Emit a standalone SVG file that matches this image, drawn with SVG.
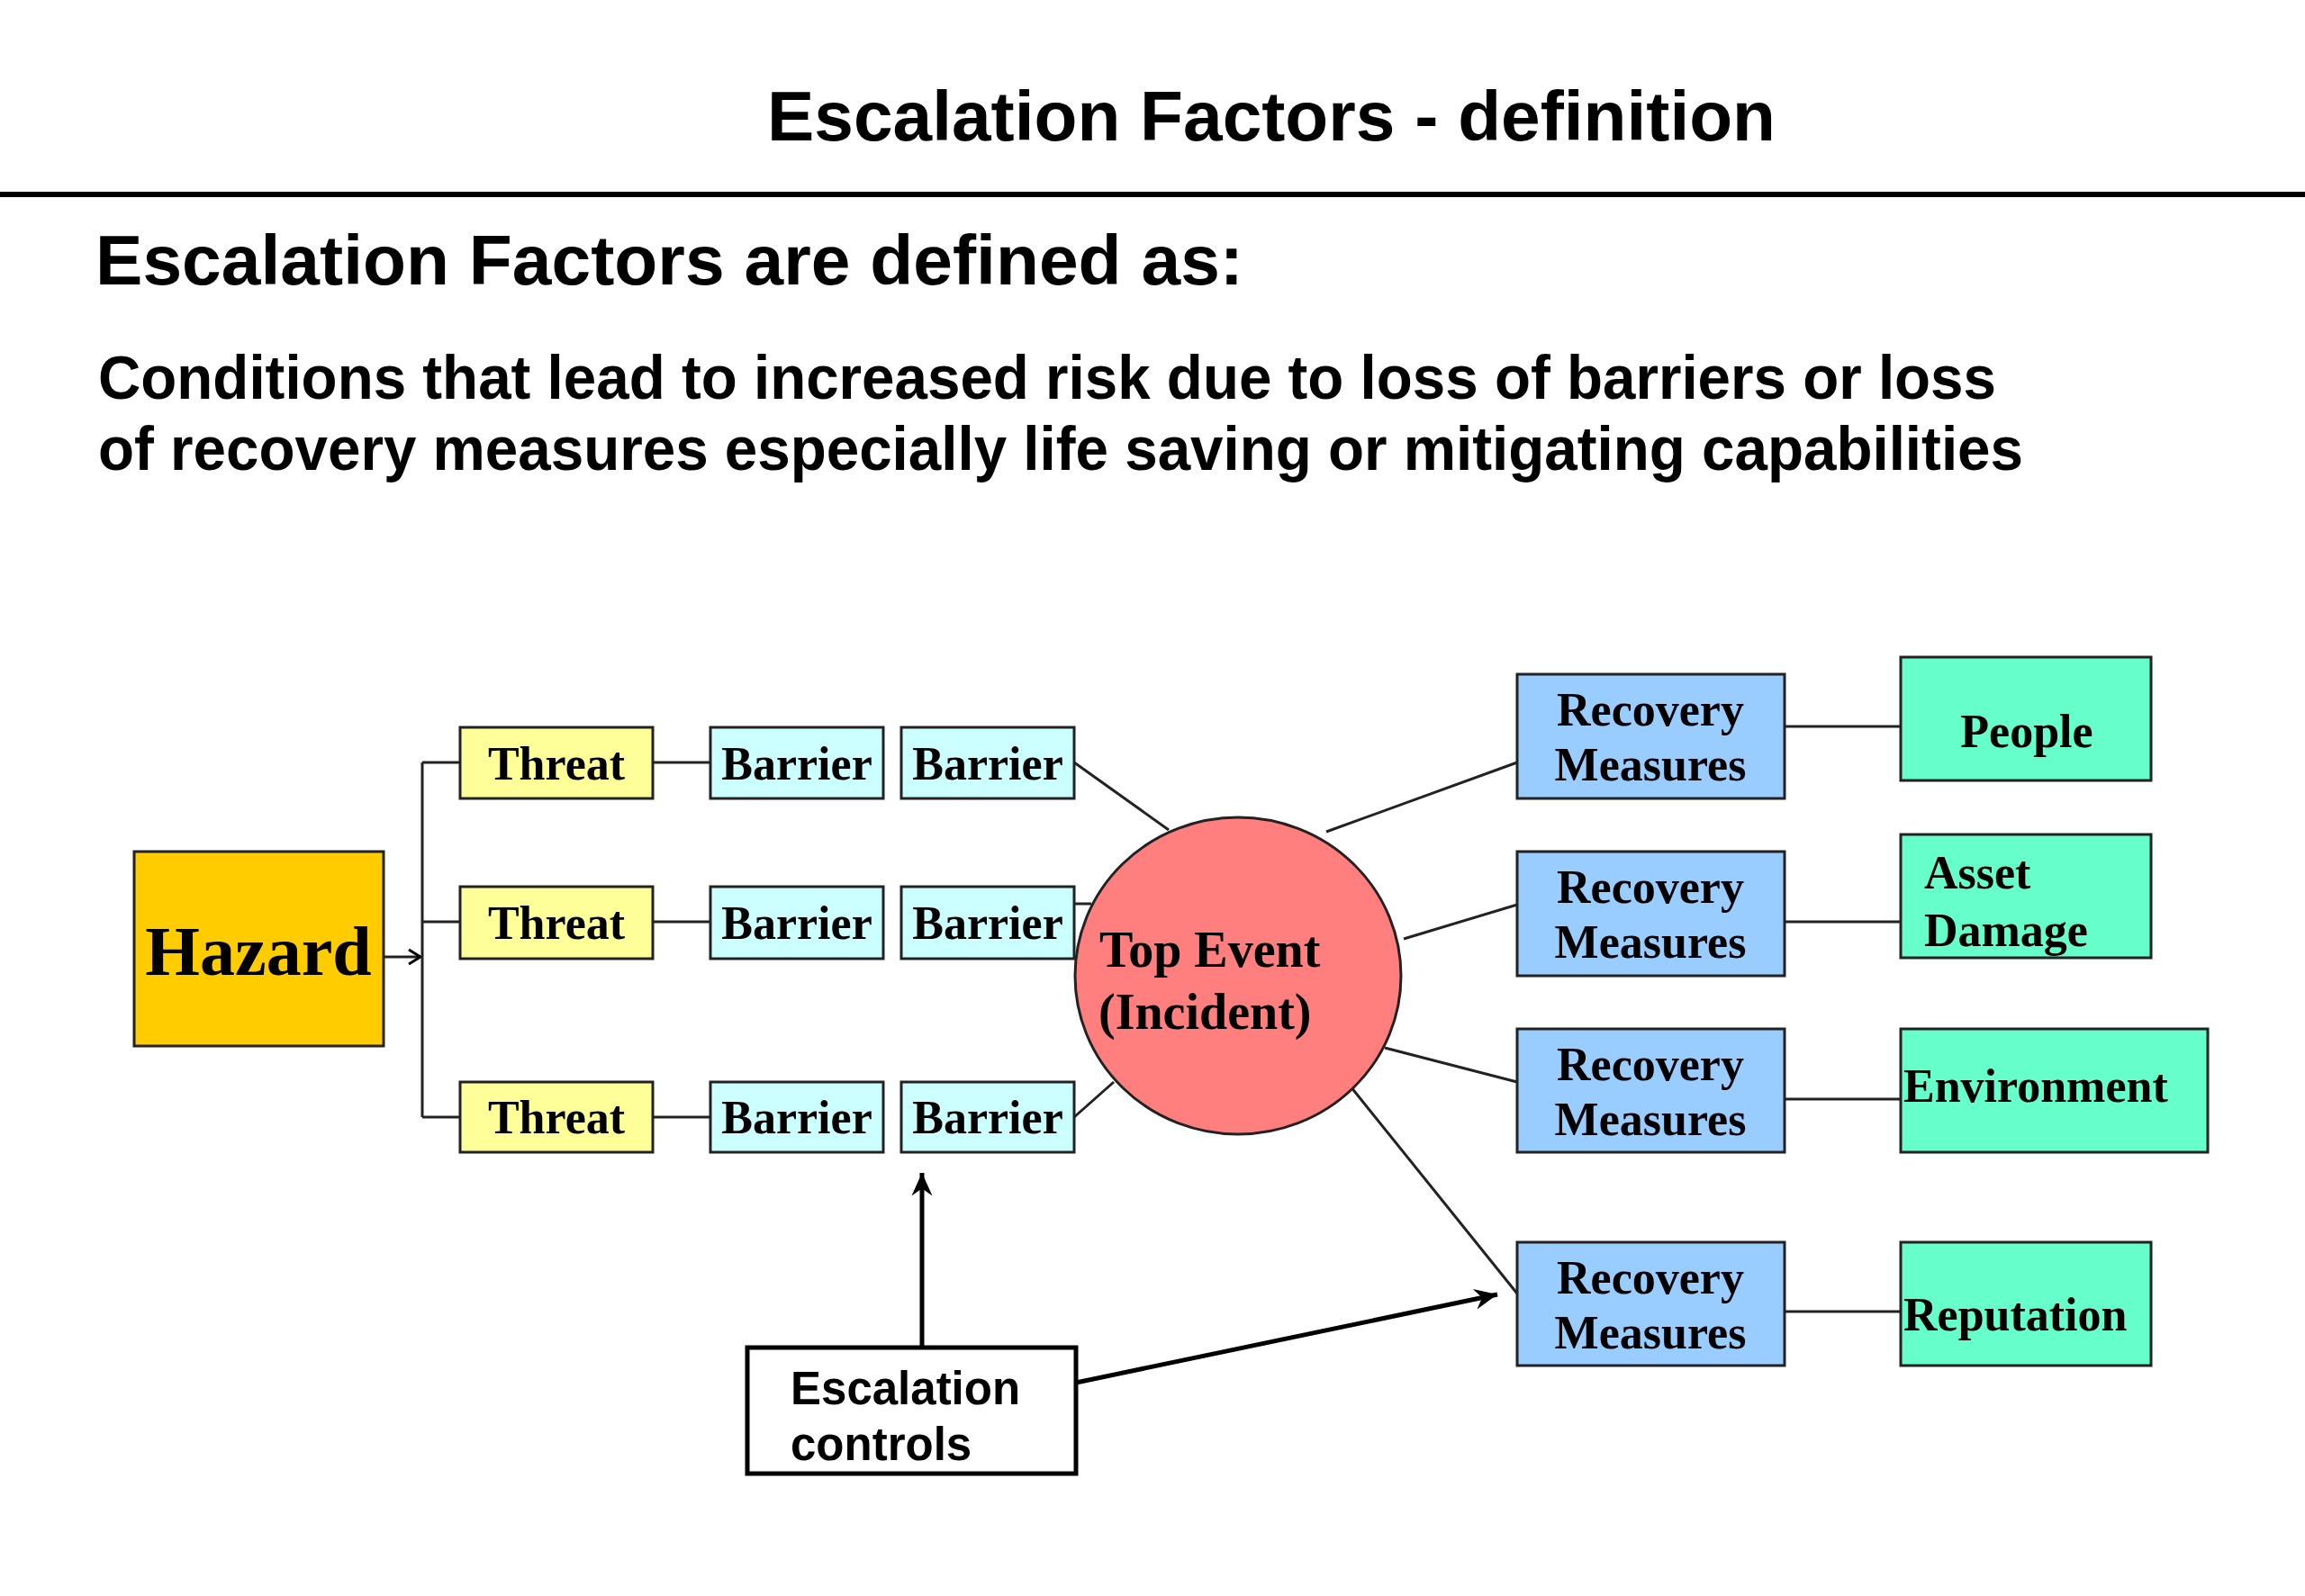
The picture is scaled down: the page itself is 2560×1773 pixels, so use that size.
<svg xmlns="http://www.w3.org/2000/svg" width="2560" height="1773" viewBox="0 0 2560 1773">
<style>
.sans{font-family:"Liberation Sans",Arial,sans-serif;font-weight:bold;fill:#000}
.serif{font-family:"Liberation Serif","Times New Roman",serif;font-weight:bold;fill:#000}
.box{stroke:#222;stroke-width:3}
.haz{fill:#FFCC00}
.thr{fill:#FFFF99}
.bar{fill:#CCFFFF}
.rec{fill:#99CCFF}
.out{fill:#66FFCC}
.lbl{font-size:52px}
.c{text-anchor:middle}
.ln{stroke:#222;stroke-width:3;fill:none}
.thick{stroke:#000;stroke-width:5;fill:none}
</style>
<defs>
<marker id="small" markerUnits="userSpaceOnUse" markerWidth="20" markerHeight="20" viewBox="-16 -10 20 20" refX="0" refY="0" orient="auto">
<path d="M-13,-8 L0,0 L-13,8" fill="none" stroke="#000" stroke-width="3"/>
</marker>
<marker id="big" markerUnits="userSpaceOnUse" markerWidth="30" markerHeight="30" viewBox="-24 -12 26 24" refX="0" refY="0" orient="auto">
<path d="M0,0 L-22,-10 L-15,0 L-22,10 Z" fill="#000"/>
</marker>
</defs>
<rect width="2560" height="1773" fill="#fff"/>
<g id="header">
<text class="sans" x="852" y="156" font-size="77" textLength="1120" lengthAdjust="spacingAndGlyphs">Escalation Factors - definition</text>
<line x1="0" y1="216" x2="2560" y2="216" stroke="#000" stroke-width="6"/>
<text class="sans" x="106" y="316" font-size="78" textLength="1275" lengthAdjust="spacingAndGlyphs">Escalation Factors are defined as:</text>
<text class="sans" x="109" y="443" font-size="69" textLength="2108" lengthAdjust="spacingAndGlyphs">Conditions that lead to increased risk due to loss of barriers or loss</text>
<text class="sans" x="109" y="522" font-size="69" textLength="2138" lengthAdjust="spacingAndGlyphs">of recovery measures especially life saving or mitigating capabilities</text>
</g>
<g id="connectors">
<line class="ln" x1="426" y1="1063" x2="467" y2="1063" marker-end="url(#small)"/>
<line class="ln" x1="469" y1="847" x2="469" y2="1241"/>
<line class="ln" x1="469" y1="847" x2="511" y2="847"/>
<line class="ln" x1="469" y1="1024" x2="511" y2="1024"/>
<line class="ln" x1="469" y1="1241" x2="511" y2="1241"/>
<line class="ln" x1="725" y1="847" x2="789" y2="847"/>
<line class="ln" x1="725" y1="1024" x2="789" y2="1024"/>
<line class="ln" x1="725" y1="1241" x2="789" y2="1241"/>
<line class="ln" x1="1193" y1="847" x2="1298" y2="922"/>
<line class="ln" x1="1193" y1="1004" x2="1212" y2="1004"/>
<line class="ln" x1="1193" y1="1241" x2="1237" y2="1202"/>
<line class="ln" x1="1473" y1="924" x2="1685" y2="847"/>
<line class="ln" x1="1559" y1="1043" x2="1685" y2="1005"/>
<line class="ln" x1="1538" y1="1164" x2="1685" y2="1202"/>
<line class="ln" x1="1496" y1="1202" x2="1685" y2="1437"/>
<line class="ln" x1="1982" y1="807" x2="2111" y2="807"/>
<line class="ln" x1="1982" y1="1024" x2="2111" y2="1024"/>
<line class="ln" x1="1982" y1="1221" x2="2111" y2="1221"/>
<line class="ln" x1="1982" y1="1457" x2="2111" y2="1457"/>
<line class="thick" x1="1024" y1="1497" x2="1024" y2="1303" marker-end="url(#big)"/>
<line class="thick" x1="1195" y1="1536" x2="1663" y2="1438" marker-end="url(#big)"/>
</g>
<g id="hazard">
<rect class="box haz" x="149" y="946" width="277" height="216"/>
<text class="serif c" x="287" y="1083" font-size="78">Hazard</text>
</g>
<g id="threat1"><rect class="box thr" x="511" y="808" width="214" height="79"/><text class="serif lbl c" x="618" y="866">Threat</text></g>
<g id="threat2"><rect class="box thr" x="511" y="985" width="214" height="80"/><text class="serif lbl c" x="618" y="1043">Threat</text></g>
<g id="threat3"><rect class="box thr" x="511" y="1202" width="214" height="78"/><text class="serif lbl c" x="618" y="1259">Threat</text></g>
<g id="barrier1a"><rect class="box bar" x="789" y="808" width="192" height="79"/><text class="serif lbl c" x="885" y="866">Barrier</text></g>
<g id="barrier1b"><rect class="box bar" x="1001" y="808" width="192" height="79"/><text class="serif lbl c" x="1097" y="866">Barrier</text></g>
<g id="barrier2a"><rect class="box bar" x="789" y="985" width="192" height="80"/><text class="serif lbl c" x="885" y="1043">Barrier</text></g>
<g id="barrier2b"><rect class="box bar" x="1001" y="985" width="192" height="80"/><text class="serif lbl c" x="1097" y="1043">Barrier</text></g>
<g id="barrier3a"><rect class="box bar" x="789" y="1202" width="192" height="78"/><text class="serif lbl c" x="885" y="1259">Barrier</text></g>
<g id="barrier3b"><rect class="box bar" x="1001" y="1202" width="192" height="78"/><text class="serif lbl c" x="1097" y="1259">Barrier</text></g>
<g id="topevent">
<ellipse cx="1375" cy="1084" rx="181" ry="176" fill="#FF7F7F" stroke="#222" stroke-width="3"/>
<text class="serif" x="1221" y="1074" font-size="56">Top Event</text>
<text class="serif" x="1220" y="1143" font-size="56">(Incident)</text>
</g>
<g id="recovery1"><rect class="box rec" x="1685" y="749" width="297" height="138"/><text class="serif lbl c" x="1833" y="806">Recovery</text><text class="serif lbl c" x="1833" y="867">Measures</text></g>
<g id="recovery2"><rect class="box rec" x="1685" y="946" width="297" height="138"/><text class="serif lbl c" x="1833" y="1003">Recovery</text><text class="serif lbl c" x="1833" y="1064">Measures</text></g>
<g id="recovery3"><rect class="box rec" x="1685" y="1143" width="297" height="137"/><text class="serif lbl c" x="1833" y="1200">Recovery</text><text class="serif lbl c" x="1833" y="1261">Measures</text></g>
<g id="recovery4"><rect class="box rec" x="1685" y="1380" width="297" height="137"/><text class="serif lbl c" x="1833" y="1437">Recovery</text><text class="serif lbl c" x="1833" y="1498">Measures</text></g>
<g id="people"><rect class="box out" x="2111" y="730" width="278" height="137"/><text class="serif lbl c" x="2251" y="830">People</text></g>
<g id="asset"><rect class="box out" x="2111" y="927" width="278" height="137"/><text class="serif lbl" x="2137" y="987">Asset</text><text class="serif lbl" x="2137" y="1051">Damage</text></g>
<g id="environment"><rect class="box out" x="2111" y="1143" width="341" height="137"/><text class="serif lbl" x="2114" y="1224">Environment</text></g>
<g id="reputation"><rect class="box out" x="2111" y="1380" width="278" height="137"/><text class="serif lbl" x="2114" y="1478">Reputation</text></g>
<g id="escalation">
<rect x="830" y="1497" width="365" height="140" fill="#fff" stroke="#000" stroke-width="5"/>
<text class="sans" x="878" y="1560" font-size="51">Escalation</text>
<text class="sans" x="878" y="1622" font-size="51">controls</text>
</g>
</svg>
